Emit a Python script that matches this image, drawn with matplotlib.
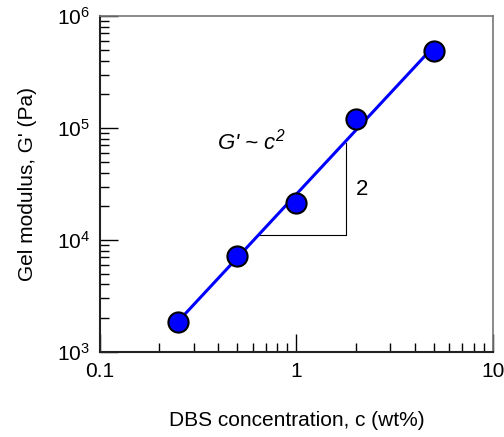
import matplotlib
matplotlib.use("Agg")
import matplotlib.pyplot as plt
import numpy as np
from matplotlib.ticker import FixedLocator, FixedFormatter, LogLocator, NullFormatter

# --- data ---
conc = [0.25, 0.5, 1.0, 2.0, 5.0]              # DBS concentration (wt%)
modulus = [1850, 7200, 21400, 120000, 490000]  # G' (Pa)

# slope triangle corners
tri_c = [0.64, 1.78, 1.78]
tri_g = [11000, 11000, 74000]

x_ticks = [0.1, 1, 10]
x_ticklabels = ["0.1", "1", "10"]
y_ticks = [1e3, 1e4, 1e5, 1e6]
y_ticklabels = [r"$10^{3}$", r"$10^{4}$", r"$10^{5}$", r"$10^{6}$"]

plt.rcParams['font.family'] = ['Liberation Sans', 'DejaVu Sans']
plt.rcParams['mathtext.fontset'] = 'custom'
plt.rcParams['mathtext.rm'] = 'Liberation Sans'
plt.rcParams['mathtext.it'] = 'Liberation Sans:italic'
plt.rcParams['mathtext.default'] = 'regular'

fig = plt.figure(figsize=(5.04, 4.37), dpi=100)
ax = fig.add_axes([0.198, 0.195, 0.78, 0.768])

# power-law fit through the points
p = np.polyfit(np.log10(conc), np.log10(modulus), 1)
cfit = np.array([min(conc), max(conc)])
ax.plot(cfit, 10 ** np.polyval(p, np.log10(cfit)), color='#0000ff', lw=2.2, zorder=2)

ax.plot(conc, modulus, 'o', ms=14.5, mfc='#0000ff', mec='black', mew=1.5, zorder=3)

ax.plot(tri_c, tri_g, color='black', lw=0.8, zorder=1)

ax.text(0.59, 76000, "G' ~ $c^{2}$", fontsize=16, fontstyle='italic',
        ha='center', va='center')
ax.text(2.15, 28500, "2", fontsize=16, ha='center', va='center')

ax.set_xscale('log')
ax.set_yscale('log')
ax.set_xlim(0.1, 10)
ax.set_ylim(1e3, 1e6)

ax.xaxis.set_major_locator(FixedLocator(x_ticks))
ax.xaxis.set_major_formatter(FixedFormatter(x_ticklabels))
ax.yaxis.set_major_locator(FixedLocator(y_ticks))
ax.yaxis.set_major_formatter(FixedFormatter(y_ticklabels))
ax.xaxis.set_minor_locator(LogLocator(base=10, subs=np.arange(2, 10)))
ax.yaxis.set_minor_locator(LogLocator(base=10, subs=np.arange(2, 10)))
ax.xaxis.set_minor_formatter(NullFormatter())
ax.yaxis.set_minor_formatter(NullFormatter())

ax.tick_params(which='both', direction='in', top=False, right=False,
               labelsize=15, width=1.0, color='black')
ax.tick_params(which='major', length=13, pad=7)
ax.tick_params(which='minor', length=6.5)

for side in ['left', 'bottom']:
    ax.spines[side].set_linewidth(1.5)
    ax.spines[side].set_color('#222222')
for side in ['top', 'right']:
    ax.spines[side].set_linewidth(1.2)
    ax.spines[side].set_color('#777777')

ax.set_xlabel("DBS concentration, c (wt%)", fontsize=15, labelpad=22)
ax.set_ylabel("Gel modulus, G' (Pa)", fontsize=15, labelpad=14)

fig.savefig("out.png", dpi=100)
